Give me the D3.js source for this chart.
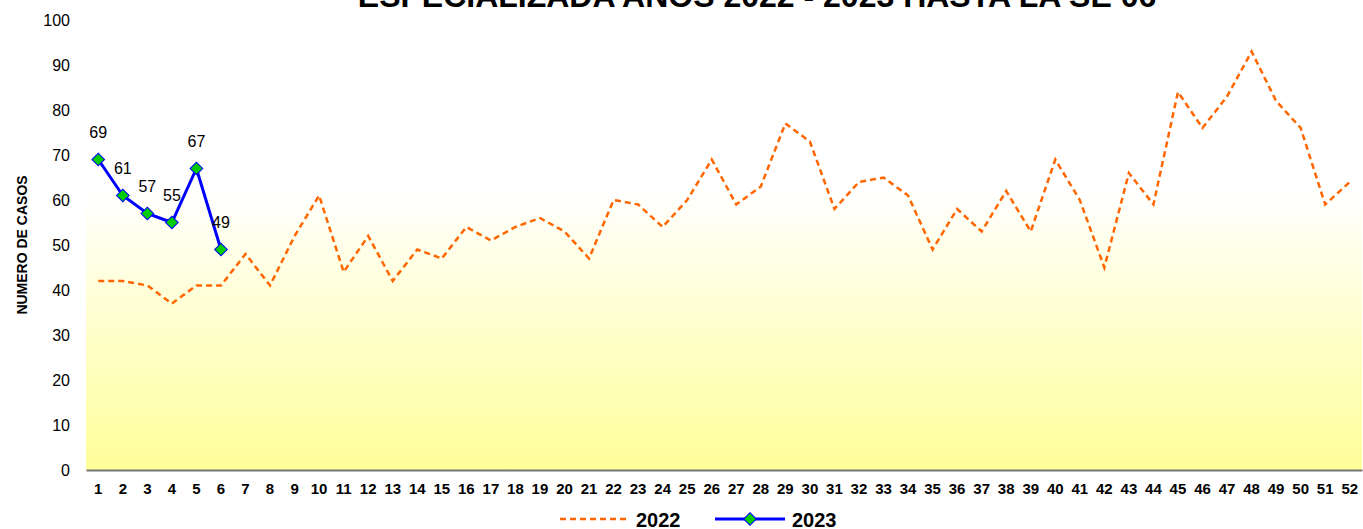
<!DOCTYPE html>
<html>
  <head>
    <script type="text/javascript" src="https://cdn.jsdelivr.net/npm/d3@7"></script>
    <style type="text/css">

html, body {
  margin: 0;
  background: #fff;
  font-family: "Liberation Sans", Arial, sans-serif;
}

svg {
  display: block;
}

    </style>
  </head>
  <body>
    <div id="chart"></div>
    <script type="text/javascript">

var weeks = d3.range(1, 53);
var cases2022 = [42, 42, 41, 37, 41, 41, 48, 41, 52, 61, 44, 52, 42, 49, 47, 54, 51, 54, 56, 53,
                 47, 60, 59, 54, 60, 69, 59, 63, 77, 73, 58, 64, 65, 61, 49, 58, 53, 62, 53, 69,
                 60, 45, 66, 59, 84, 76, 83, 93, 82, 76, 59, 64];
var cases2023 = [69, 61, 57, 55, 67, 49];
var yTicks = [0, 10, 20, 30, 40, 50, 60, 70, 80, 90, 100];
var title = "ESPECIALIZADA AÑOS 2022 - 2023 HASTA LA SE 06";

var width = 1363,
    height = 529;

var svg = d3.select("#chart").append("svg")
    .attr("width", width)
    .attr("height", height);

var x = d3.scaleBand()
    .domain(weeks)
    .range([86, 1362]);

var y = d3.scaleLinear()
    .domain([0, 100])
    .range([470, 20]);

function cx(d) { return x(d) + x.bandwidth() / 2; }

// plot background, white fading into pale yellow
var grad = svg.append("defs").append("linearGradient")
    .attr("id", "bg")
    .attr("x1", 0).attr("y1", 0).attr("x2", 0).attr("y2", 1);
grad.append("stop").attr("offset", "0%").attr("stop-color", "#ffffff");
grad.append("stop").attr("offset", "38%").attr("stop-color", "#ffffff");
grad.append("stop").attr("offset", "100%").attr("stop-color", "#ffff99");

svg.append("rect")
    .attr("x", 86)
    .attr("y", y(100))
    .attr("width", 1362 - 86)
    .attr("height", y(0) - y(100))
    .style("fill", "url(#bg)");

// title, clipped at the top like the original
svg.append("text")
    .attr("x", 757)
    .attr("y", 7)
    .attr("text-anchor", "middle")
    .style("font-size", "32px")
    .style("font-weight", "bold")
    .text(title);

// y axis labels
var yAxis = svg.append("g")
    .attr("transform", "translate(86,0)")
    .call(d3.axisLeft(y).tickValues(yTicks).tickSize(0).tickPadding(16));
yAxis.select(".domain").remove();
yAxis.selectAll("text")
    .style("font-family", "Liberation Sans, Arial, sans-serif")
    .style("font-size", "16px")
    .style("fill", "#000");

svg.append("text")
    .attr("transform", "translate(27,245) rotate(-90)")
    .attr("text-anchor", "middle")
    .style("font-size", "14px")
    .style("font-weight", "bold")
    .text("NUMERO DE CASOS");

// x axis
var xAxis = svg.append("g")
    .attr("transform", "translate(0," + y(0) + ")")
    .call(d3.axisBottom(x).tickSize(0).tickPadding(13));
xAxis.select(".domain")
    .attr("stroke", "#777")
    .attr("stroke-width", 2);
xAxis.selectAll("text")
    .style("font-family", "Liberation Sans, Arial, sans-serif")
    .style("font-size", "15px")
    .style("font-weight", "bold")
    .style("fill", "#000");

// 2022 series
var line = d3.line()
    .x(function(d, i) { return cx(weeks[i]); })
    .y(function(d) { return y(d); });

svg.append("path")
    .datum(cases2022)
    .attr("d", line)
    .attr("fill", "none")
    .attr("stroke", "#ff6600")
    .attr("stroke-width", 2.5)
    .attr("stroke-dasharray", "6,4");

// 2023 series
svg.append("path")
    .datum(cases2023)
    .attr("d", line)
    .attr("fill", "none")
    .attr("stroke", "#0000ff")
    .attr("stroke-width", 3);

var diamond = d3.symbol().type(d3.symbolSquare).size(80);

svg.selectAll("path.pt")
    .data(cases2023)
  .enter().append("path")
    .attr("class", "pt")
    .attr("d", diamond)
    .attr("transform", function(d, i) {
      return "translate(" + cx(weeks[i]) + "," + y(d) + ") rotate(45)";
    })
    .attr("fill", "#00cc00")
    .attr("stroke", "#0000ff")
    .attr("stroke-width", 1);

svg.selectAll("text.lbl")
    .data(cases2023)
  .enter().append("text")
    .attr("class", "lbl")
    .attr("x", function(d, i) { return cx(weeks[i]); })
    .attr("y", function(d) { return y(d) - 22; })
    .attr("text-anchor", "middle")
    .style("font-size", "16px")
    .text(function(d) { return d; });

// legend
var leg = svg.append("g").attr("transform", "translate(0,519)");
leg.append("line")
    .attr("x1", 560).attr("x2", 628)
    .attr("stroke", "#ff6600")
    .attr("stroke-width", 2.5)
    .attr("stroke-dasharray", "6,4");
leg.append("text")
    .attr("x", 636).attr("y", 8)
    .style("font-size", "20px")
    .style("font-weight", "bold")
    .text("2022");
leg.append("line")
    .attr("x1", 715).attr("x2", 785)
    .attr("stroke", "#0000ff")
    .attr("stroke-width", 3);
leg.append("path")
    .attr("d", diamond)
    .attr("transform", "translate(750,0) rotate(45)")
    .attr("fill", "#00cc00")
    .attr("stroke", "#0000ff");
leg.append("text")
    .attr("x", 792).attr("y", 8)
    .style("font-size", "20px")
    .style("font-weight", "bold")
    .text("2023");

    </script>
  </body>
</html>
